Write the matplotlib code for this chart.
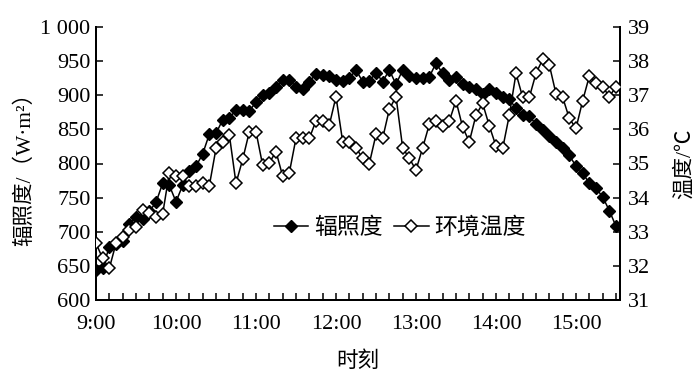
import matplotlib
matplotlib.use("Agg")
import matplotlib.pyplot as plt
from matplotlib.ticker import MultipleLocator

plt.rcParams['font.family'] = ['Liberation Serif', 'Noto Sans CJK SC', 'DejaVu Sans']

# minutes after 9:00, 5-minute sampling from 9:00 to 15:30
minutes = list(range(0, 391, 5))

irradiance = [644, 647, 678, 682, 686, 712, 721, 718, 730, 743,
              771, 768, 744, 768, 789, 796, 814, 843, 844, 864,
              866, 879, 879, 877, 890, 900, 904, 912, 923, 923,
              912, 909, 920, 931, 930, 928, 922, 921, 925, 937,
              920, 921, 933, 920, 937, 916, 937, 928, 926, 926,
              927, 947, 932, 923, 927, 917, 912, 909, 902, 909,
              904, 897, 894, 881, 871, 869, 858, 849, 840, 832,
              822, 812, 796, 786, 771, 764, 751, 731, 708]

temperature = [32.66, 32.22, 31.93, 32.66, 32.86, 33.05, 33.13, 33.64, 33.54, 33.42,
               33.52, 34.73, 34.63, 34.63, 34.35, 34.35, 34.42, 34.35, 35.44, 35.64,
               35.84, 34.42, 35.12, 35.93, 35.93, 34.95, 35.02, 35.35, 34.63, 34.73,
               35.74, 35.74, 35.74, 36.25, 36.25, 36.13, 36.96, 35.64, 35.64, 35.46,
               35.15, 35.00, 35.85, 35.74, 36.59, 36.96, 35.46, 35.15, 34.81, 35.46,
               36.15, 36.26, 36.10, 36.25, 36.84, 36.06, 35.64, 36.42, 36.76, 36.10,
               35.51, 35.44, 36.42, 37.64, 36.94, 36.94, 37.64, 38.05, 37.89, 37.04,
               36.94, 36.32, 36.03, 36.84, 37.56, 37.37, 37.25, 36.96, 37.25]

x_ticks = [0, 60, 120, 180, 240, 300, 360]
x_labels = ["9:00", "10:00", "11:00", "12:00", "13:00", "14:00", "15:00"]
left_ticks = [600, 650, 700, 750, 800, 850, 900, 950, 1000]
left_labels = ["600", "650", "700", "750", "800", "850", "900", "950", "1 000"]
right_ticks = [31, 32, 33, 34, 35, 36, 37, 38, 39]

fig = plt.figure(figsize=(7.0, 3.78), dpi=100)
ax = fig.add_axes([96/700, 1-300/378, (620-96)/700, (300-27)/378])
ax2 = ax.twinx()

l1, = ax.plot(minutes, irradiance, color='black', lw=1.1, marker='D',
              markersize=6, markerfacecolor='black', markeredgecolor='black',
              label='辐照度', zorder=3)
l2, = ax2.plot(minutes, temperature, color='black', lw=1.1, marker='D',
               markersize=6, markerfacecolor='white', markeredgecolor='black',
               markeredgewidth=1.1, label='环境温度', zorder=3)

ax.set_xlim(0, 393)
ax.set_ylim(600, 1000)
ax2.set_ylim(31, 39)

ax.set_xticks(x_ticks)
ax.set_xticklabels(x_labels)
ax.xaxis.set_minor_locator(MultipleLocator(10))
ax.set_yticks(left_ticks)
ax.set_yticklabels(left_labels)
ax2.set_yticks(right_ticks)

fs = 16
for a in (ax, ax2):
    a.spines['top'].set_visible(False)
    for s in a.spines.values():
        s.set_linewidth(1.4)
    a.tick_params(direction='in', length=5, width=1.1, labelsize=fs)
    a.tick_params(which='minor', direction='in', length=5, width=1.1)
ax.tick_params(axis='x', pad=11)
ax.tick_params(axis='y', pad=4)
ax2.tick_params(axis='y', pad=6)

ax.set_xlabel('时刻', fontsize=15.5, labelpad=12)
ax.set_ylabel('辐照度/（W·m²）', fontsize=15.5, labelpad=4)
ax2.set_ylabel('温度/℃', fontsize=15.5, labelpad=17)

ax2.legend([l1, l2], ['辐照度', '环境温度'], loc='center',
           bbox_to_anchor=(0.58, 0.265), ncol=2, frameon=False,
           fontsize=16.5, handlelength=1.5, handletextpad=0.25,
           columnspacing=0.5)

fig.savefig('out.png', dpi=100)
